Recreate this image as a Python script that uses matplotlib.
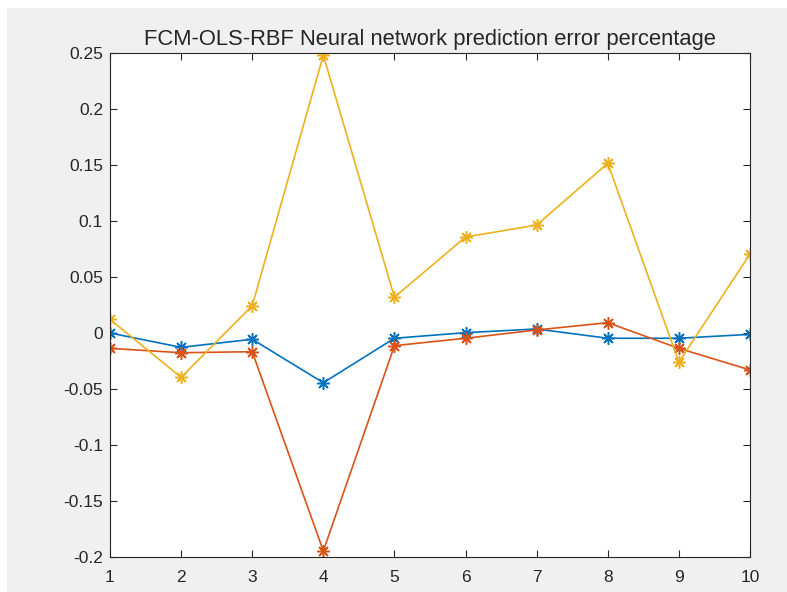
import matplotlib
matplotlib.use("Agg")
import matplotlib.pyplot as plt
from matplotlib.patches import Rectangle

x = list(range(1, 11))
err_blue = [0.0, -0.0128, -0.0056, -0.0444, -0.0047, 0.0003, 0.0036, -0.0047, -0.0047, -0.0012]
err_red = [-0.0137, -0.0176, -0.0167, -0.1946, -0.0113, -0.0047, 0.0027, 0.0092, -0.0137, -0.033]
err_yellow = [0.0122, -0.0396, 0.0244, 0.248, 0.032, 0.0857, 0.0964, 0.1515, -0.026, 0.0705]
yticks = [-0.2, -0.15, -0.1, -0.05, 0, 0.05, 0.1, 0.15, 0.2, 0.25]
ytick_labels = ["-0.2", "-0.15", "-0.1", "-0.05", "0", "0.05", "0.1", "0.15", "0.2", "0.25"]

plt.rcParams['font.family'] = ['Liberation Sans', 'DejaVu Sans']

fig = plt.figure(figsize=(7.87, 5.92), dpi=100, facecolor='white')
# gray figure area, white strip on top and left
fig.patches.append(Rectangle((7 / 787, -0.01), 1, 1.01 - 8 / 592, transform=fig.transFigure,
                             facecolor='#f0f0f0', edgecolor='none', zorder=-10))
ax = fig.add_axes([110 / 787, 35 / 592, 640 / 787, 504 / 592])
ax.set_facecolor('white')

mk = (8, 2, 0)
ax.plot(x, err_blue, color='#0072BD', lw=1.2, marker=mk, ms=9, mew=1.1)
ax.plot(x, err_red, color='#D95319', lw=1.2, marker=mk, ms=9, mew=1.1)
ax.plot(x, err_yellow, color='#EDB120', lw=1.2, marker=mk, ms=9, mew=1.1)

ax.set_xlim(1, 10)
ax.set_ylim(-0.2, 0.25)
ax.set_xticks(x)
ax.set_yticks(yticks)
ax.set_yticklabels(ytick_labels)
ax.tick_params(direction='in', top=True, right=True, length=5, width=0.8,
               colors='#262626', labelsize=12.5, pad=5)
ax.tick_params(axis='x', pad=9)
for s in ax.spines.values():
    s.set_color('#262626')
    s.set_linewidth(0.8)
ax.set_title("FCM-OLS-RBF Neural network prediction error percentage",
             fontsize=15.8, color='#262626', pad=6)

fig.savefig("out.png", dpi=100, facecolor=fig.get_facecolor())
